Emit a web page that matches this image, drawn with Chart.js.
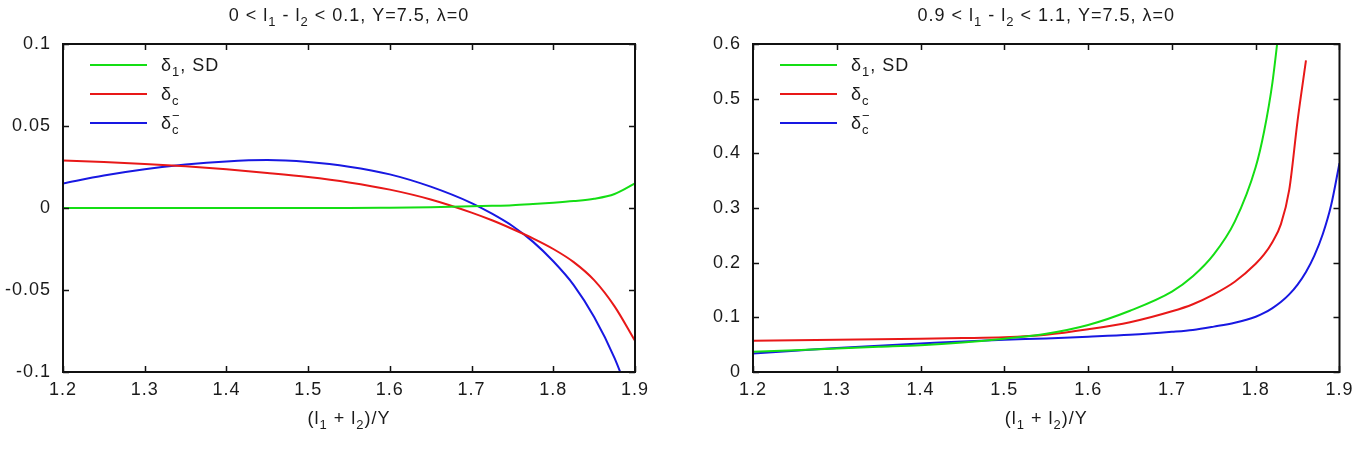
<!DOCTYPE html>
<html>
<head>
<meta charset="utf-8">
<title>delta curves</title>
<script src="https://cdn.jsdelivr.net/npm/chart.js@4/dist/chart.umd.min.js"></script>
<style>
  body { margin: 0; background: #fff; }
  #wrap { position: relative; width: 1359px; height: 460px; overflow: hidden; }
  canvas { position: absolute; top: 0; }
</style>
</head>
<body>
<div id="wrap">
  <canvas id="leftChart" width="680" height="460" style="left:0"></canvas>
  <canvas id="rightChart" width="679" height="460" style="left:680px"></canvas>
</div>
<script>
// Ejes
const xTicks = [1.2, 1.3, 1.4, 1.5, 1.6, 1.7, 1.8, 1.9];
const leftYTicks = [-0.1, -0.05, 0, 0.05, 0.1];
const rightYTicks = [0, 0.1, 0.2, 0.3, 0.4, 0.5, 0.6];

// Panel izquierdo: 0 < l1 - l2 < 0.1
const leftX       = [1.2, 1.25, 1.3, 1.35, 1.4, 1.45, 1.5, 1.55, 1.6, 1.65, 1.7, 1.725, 1.75, 1.775, 1.8, 1.825, 1.85, 1.875, 1.9];
const leftSD      = [0, 0, 0, 0, 0, 0, 0, 0, 0.0002, 0.0005, 0.001, 0.0013, 0.0017, 0.0024, 0.0032, 0.0042, 0.0056, 0.0085, 0.0150];
const leftDc      = [0.0290, 0.0281, 0.0269, 0.0254, 0.0236, 0.0214, 0.0189, 0.0156, 0.0112, 0.0052, -0.0028, -0.0075, -0.0128, -0.0185, -0.0250, -0.0330, -0.0440, -0.0600, -0.081];
const leftDcMinus = [0.0150, 0.0198, 0.0236, 0.0265, 0.0284, 0.0292, 0.0280, 0.0252, 0.0205, 0.0130, 0.0030, -0.0035, -0.0110, -0.0205, -0.0325, -0.0470, -0.0665, -0.0915, -0.124];

// Panel derecho: 0.9 < l1 - l2 < 1.1
const rightX       = [1.2, 1.25, 1.3, 1.35, 1.4, 1.45, 1.5, 1.55, 1.6, 1.65, 1.7, 1.725, 1.75, 1.775, 1.8, 1.81, 1.82, 1.83, 1.84, 1.85, 1.86, 1.87, 1.88, 1.89, 1.9];
const rightSD      = [0.037, 0.040, 0.043, 0.046, 0.049, 0.054, 0.061, 0.070, 0.086, 0.112, 0.147, 0.175, 0.215, 0.275, 0.375, 0.44, 0.53, 0.66, null, null, null, null, null, null, null];
const rightDc      = [0.057, 0.058, 0.059, 0.060, 0.061, 0.062, 0.0635, 0.068, 0.078, 0.091, 0.111, 0.124, 0.142, 0.165, 0.198, 0.215, 0.238, 0.27, 0.333, 0.46, 0.57, null, null, null, null];
const rightDcMinus = [0.034, 0.039, 0.044, 0.048, 0.052, 0.056, 0.059, 0.0615, 0.0645, 0.068, 0.0735, 0.077, 0.083, 0.09, 0.101, 0.108, 0.117, 0.128, 0.142, 0.160, 0.183, 0.213, 0.252, 0.305, 0.382];

const seriesColors = ['rgb(20,222,20)', 'rgb(232,24,24)', 'rgb(24,24,226)'];

// Textos con subíndices: string = normal, {sub, sup} = pequeño
const leftTitle  = ['0 < l', {sub: '1'}, ' - l', {sub: '2'}, ' < 0.1, Y=7.5, λ=0'];
const rightTitle = ['0.9 < l', {sub: '1'}, ' - l', {sub: '2'}, ' < 1.1, Y=7.5, λ=0'];
const xTitle     = ['(l', {sub: '1'}, ' + l', {sub: '2'}, ')/Y'];
const legendLabels = [
    ['δ', {sub: '1'}, ', SD'],
    ['δ', {sub: 'c'}],
    ['δ', {sub: 'c', sup: '−'}]
];

const FAMILY = '"Liberation Sans", Arial, sans-serif';
const MAIN = '18px ' + FAMILY;
const SMALL = '13px ' + FAMILY;
const TEXT = '#1a1a1a';
const SPACING = '1px';

function richWidth(ctx, parts) {
    let w = 0;
    parts.forEach(p => {
        if (typeof p === 'string') {
            ctx.font = MAIN;
            w += ctx.measureText(p).width;
        } else {
            ctx.font = SMALL;
            w += Math.max(p.sub ? ctx.measureText(p.sub).width : 0, p.sup ? ctx.measureText(p.sup).width : 0);
        }
    });
    return w;
}

function drawRich(ctx, parts, x, baseline, align) {
    let cx = align === 'center' ? x - richWidth(ctx, parts) / 2 : x;
    ctx.textAlign = 'left';
    ctx.textBaseline = 'alphabetic';
    ctx.fillStyle = TEXT;
    parts.forEach(p => {
        if (typeof p === 'string') {
            ctx.font = MAIN;
            ctx.fillText(p, cx, baseline);
            cx += ctx.measureText(p).width;
        } else {
            ctx.font = SMALL;
            let adv = 0;
            if (p.sub) {
                ctx.fillText(p.sub, cx, baseline + 5);
                adv = ctx.measureText(p.sub).width;
            }
            if (p.sup) {
                ctx.fillText(p.sup, cx, baseline - 9);
                adv = Math.max(adv, ctx.measureText(p.sup).width);
            }
            cx += adv;
        }
    });
}

// Marco, ticks hacia dentro, título y leyenda al estilo gnuplot
const gnuplotDecor = {
    id: 'gnuplotDecor',
    beforeDraw(chart) {
        // texto un poco más ancho, como en la imagen original
        chart.ctx.letterSpacing = SPACING;
    },
    afterDraw(chart, args, opts) {
        const ctx = chart.ctx;
        const a = chart.chartArea;
        const xs = chart.scales.x, ys = chart.scales.y;
        const cx = (a.left + a.right) / 2;
        ctx.save();
        ctx.letterSpacing = SPACING;

        // ticks
        ctx.strokeStyle = '#111';
        ctx.lineWidth = 1.5;
        ctx.beginPath();
        xs.ticks.forEach(t => {
            const px = Math.round(xs.getPixelForValue(t.value)) + 0.5;
            ctx.moveTo(px, a.bottom); ctx.lineTo(px, a.bottom - 6);
            ctx.moveTo(px, a.top); ctx.lineTo(px, a.top + 6);
        });
        ys.ticks.forEach(t => {
            const py = Math.round(ys.getPixelForValue(t.value)) + 0.5;
            ctx.moveTo(a.left, py); ctx.lineTo(a.left + 6, py);
            ctx.moveTo(a.right, py); ctx.lineTo(a.right - 6, py);
        });
        ctx.stroke();

        // marco
        ctx.lineWidth = 2;
        ctx.strokeRect(a.left, a.top, a.right - a.left, a.bottom - a.top);

        // títulos
        drawRich(ctx, opts.title, cx, 21, 'center');
        drawRich(ctx, xTitle, cx, 424, 'center');

        // leyenda
        chart.data.datasets.forEach((ds, i) => {
            const y = a.top + 21 + i * 29;
            ctx.strokeStyle = ds.borderColor;
            ctx.lineWidth = 2;
            ctx.beginPath();
            ctx.moveTo(a.left + 27, y);
            ctx.lineTo(a.left + 84, y);
            ctx.stroke();
            drawRich(ctx, legendLabels[i], a.left + 98, y + 6, 'left');
        });
        ctx.restore();
    }
};

const makeChart = (id, xVals, series, yTicks, titleParts, yWidth, padRight) => {
    const ctx = document.getElementById(id);
    if (!ctx) return;

    const datasets = series.map((vals, i) => ({
        data: xVals.map((x, j) => ({ x: x, y: vals[j] })),
        borderColor: seriesColors[i],
        backgroundColor: seriesColors[i],
        borderWidth: 2,
        pointRadius: 0,
        fill: false,
        cubicInterpolationMode: 'monotone'
    }));

    const tickFont = { family: FAMILY, size: 18 };

    new Chart(ctx, {
        type: 'line',
        data: { datasets: datasets },
        plugins: [gnuplotDecor],
        options: {
            responsive: false,
            animation: false,
            devicePixelRatio: 1,
            layout: { padding: { top: 44, right: padRight, left: 0, bottom: 0 } },
            plugins: {
                legend: { display: false },
                title: { display: false },
                tooltip: { enabled: false },
                gnuplotDecor: { title: titleParts }
            },
            scales: {
                x: {
                    type: 'linear',
                    min: xTicks[0],
                    max: xTicks[xTicks.length - 1],
                    afterBuildTicks: s => { s.ticks = xTicks.map(v => ({ value: v })); },
                    afterFit: s => { s.height = 88; },
                    grid: { display: false, drawTicks: false },
                    border: { display: false },
                    ticks: {
                        padding: 7, font: tickFont, color: TEXT,
                        autoSkip: false, maxRotation: 0,
                        callback: v => String(v)
                    }
                },
                y: {
                    type: 'linear',
                    min: yTicks[0],
                    max: yTicks[yTicks.length - 1],
                    afterBuildTicks: s => { s.ticks = yTicks.map(v => ({ value: v })); },
                    afterFit: s => { s.width = yWidth; },
                    grid: { display: false, drawTicks: false },
                    border: { display: false },
                    ticks: {
                        padding: 12, font: tickFont, color: TEXT,
                        autoSkip: false,
                        callback: v => String(v)
                    }
                }
            }
        }
    });
};

makeChart('leftChart', leftX, [leftSD, leftDc, leftDcMinus], leftYTicks, leftTitle, 63, 45);
makeChart('rightChart', rightX, [rightSD, rightDc, rightDcMinus], rightYTicks, rightTitle, 73, 17);
</script>
</body>
</html>
